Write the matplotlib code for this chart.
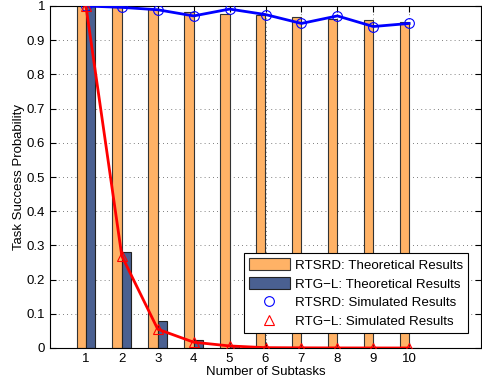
import matplotlib
matplotlib.use("Agg")
import matplotlib.pyplot as plt
import numpy as np

plt.rcParams['font.family'] = ['Liberation Sans', 'DejaVu Sans']

subtasks = [1, 2, 3, 4, 5, 6, 7, 8, 9, 10]
rtsrd_theory = [1.0, 0.996, 0.991, 0.983, 0.978, 0.975, 0.969, 0.962, 0.958, 0.952]
rtgl_theory = [1.0, 0.282, 0.079, 0.022, 0.005, 0.001, 0.0003, 0.0001, 0.0, 0.0]
rtsrd_sim = [1.0, 0.996, 0.989, 0.971, 0.991, 0.975, 0.949, 0.971, 0.940, 0.949]
rtgl_sim = [1.0, 0.269, 0.055, 0.017, 0.006, 0.001, 0.0005, 0.0002, 0.0001, 0.0]
yticks = [0, 0.1, 0.2, 0.3, 0.4, 0.5, 0.6, 0.7, 0.8, 0.9, 1]

fig = plt.figure(figsize=(4.82, 3.87), dpi=100)
ax = fig.add_axes([50/482, 1-348/387, 431/482, 342/387])

x = np.array(subtasks)
w = 0.26
b1 = ax.bar(x - w/2, rtsrd_theory, width=w, color='#FFB266', edgecolor='#333333', linewidth=0.8,
            label='RTSRD: Theoretical Results', zorder=2)
b2 = ax.bar(x + w/2, rtgl_theory, width=w, color='#4A6091', edgecolor='#222222', linewidth=0.8,
            label='RTG\u2212L: Theoretical Results', zorder=2)
ax.plot(x, rtsrd_sim, color='#0000FF', lw=2, zorder=3)
ax.plot(x, rtgl_sim, color='#FF0000', lw=2, zorder=3)
m1, = ax.plot(x, rtsrd_sim, ls='none', marker='o', ms=7, mfc='none', mec='#0000FF', mew=0.8,
              label='RTSRD: Simulated Results', zorder=4)
m2, = ax.plot(x, rtgl_sim, ls='none', marker='^', ms=7, mfc='none', mec='#FF0000', mew=0.8,
              label='RTG\u2212L: Simulated Results', zorder=4)

ax.set_xlim(0, 12)
ax.set_ylim(0, 1)
ax.set_xticks(subtasks)
ax.set_yticks(yticks)
ax.set_yticklabels([f'{v:g}' for v in yticks])
ax.tick_params(direction='in', top=True, right=True, labelsize=9.5, length=4)
ax.grid(True, ls=(0, (1, 4)), color='#555555', lw=0.6, zorder=0)
ax.set_axisbelow(True)
ax.set_xlabel('Number of Subtasks', fontsize=9.5, labelpad=1)
ax.set_ylabel('Task Success Probability', fontsize=9.5, labelpad=1)

leg = ax.legend(handles=[b1, b2, m1, m2], loc='lower right', fontsize=9.6, frameon=True,
                fancybox=False, edgecolor='black', framealpha=1, borderpad=0.35,
                labelspacing=0.4, handlelength=3.1, handleheight=1.0, handletextpad=0.4,
                bbox_to_anchor=(0.97, 0.044), borderaxespad=0)
leg.get_frame().set_linewidth(0.8)

fig.savefig('out.png', dpi=100)
